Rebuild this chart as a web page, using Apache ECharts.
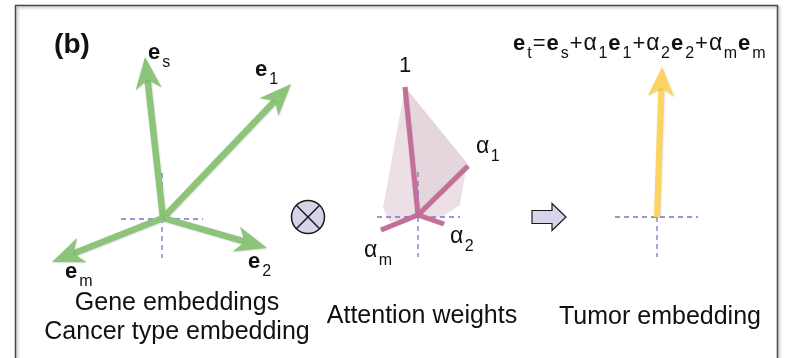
<!DOCTYPE html>
<html><head><meta charset="utf-8">
<script src="https://cdn.jsdelivr.net/npm/echarts@6/dist/echarts.min.js"></script>
<style>html,body{margin:0;padding:0;background:#fff}#c{width:786px;height:358px}</style>
</head><body><div id="c"></div><script>
const FONT = '"Liberation Sans", Arial, Helvetica, sans-serif';

// ---- diagram data (diagram units: x to the right, y downward) ----
const panelTag = '(b)';
const panelTagAt = [72, 45];

const geneOrigin = [163, 218];
const geneTips = [[145, 57], [291, 84], [267, 248], [52, 262]];
const geneSubs = ['s', '1', '2', 'm'];
const geneLabelAt = [[148, 53], [255, 70], [248, 262], [65, 272]];

const attnOrigin = [418, 215];
const attnEnds = [[405, 87], [468, 166], [444, 224], [381, 230]];
const attnMain = ['1', 'α', 'α', 'α'];
const attnSubs = ['', '1', '2', 'm'];
const attnLabelAt = [[399, 66], [476, 147], [450, 237], [364, 251]];
const attnShadeDark = [[[405, 87], [467, 163], [418, 215]]];
const attnShadeLight = [
  [[405, 87], [383, 208], [390, 222], [418, 215]],
  [[467, 163], [460, 205], [440, 218], [418, 215]]
];

const tumorOrigin = [657, 217];
const tumorTip = [662, 67];

const crossCenters = [[162, 219], [418, 217], [657, 217]];
const crossExtents = [[41, 41, 46, 39], [41, 42, 45, 40], [42, 41, 0, 40]]; // left, right, up, down

const otimesAt = [308, 217];
const thenArrowAt = [549, 217];

const formulaAt = [513, 44];
const formulaTokens = [
  ['e', 'b'], ['t', 's'], ['=', 'r'], ['e', 'b'], ['s', 's'], ['+', 'r'],
  ['α', 'a'], ['1', 's'], ['e', 'b'], ['1', 's'], ['+', 'r'],
  ['α', 'a'], ['2', 's'], ['e', 'b'], ['2', 's'], ['+', 'r'],
  ['α', 'a'], ['m', 's'], ['e', 'b'], ['m', 's']
];

const captionTexts = ['Gene embeddings', 'Cancer type embedding', 'Attention weights', 'Tumor embedding'];
const captionAt = [[177, 303], [177, 332], [422, 316], [660, 317]];

// ---- styles ----
const GREEN = '#8cc47a', PINK = '#c26f9a', YELLOW = '#fcd462', DASH = '#7c73c6', INK = '#111';
const TXT = {
  b: { s: 22, w: 'bold', gap: 2 },
  r: { s: 22, w: 'normal', gap: 1 },
  a: { s: 23, w: 'normal', gap: 1.5 },
  s: { s: 16, w: 'normal', gap: 1, dy: 10 }
};
const meas = document.createElement('canvas').getContext('2d');
function tw(t, st) { meas.font = st.w + ' ' + st.s + 'px ' + FONT; return meas.measureText(t).width; }
function textRun(x, y, tokens) {
  const out = []; let cx = x;
  tokens.forEach(function (tk) {
    if (!tk[0]) return;
    const st = TXT[tk[1]];
    out.push({ type: 'text', x: cx, y: y + (st.dy || 0), style: {
      text: tk[0], fill: INK, fontSize: st.s, fontFamily: FONT, fontWeight: st.w,
      align: 'left', verticalAlign: 'middle' } });
    cx += tw(tk[0], st) + st.gap;
  });
  return out;
}

function arrowRender(origin, color, width, headLen, headW, notch) {
  return function (params, api) {
    const o = api.coord(origin);
    const t = api.coord([api.value(0), api.value(1)]);
    const dx = t[0] - o[0], dy = t[1] - o[1];
    const L = Math.hypot(dx, dy), ux = dx / L, uy = dy / L, px = -uy, py = ux;
    const bx = t[0] - ux * headLen, by = t[1] - uy * headLen;
    const nx = t[0] - ux * (headLen - notch), ny = t[1] - uy * (headLen - notch);
    const sh = { shadowBlur: 2, shadowColor: 'rgba(0,0,0,0.18)', shadowOffsetX: 0.5, shadowOffsetY: 0.5 };
    return { type: 'group', children: [
      { type: 'line', shape: { x1: o[0], y1: o[1], x2: nx + ux * 2, y2: ny + uy * 2 },
        style: Object.assign({ stroke: color, lineWidth: width, lineCap: 'butt' }, sh) },
      { type: 'polygon', shape: { points: [[t[0], t[1]], [bx + px * headW / 2, by + py * headW / 2], [nx, ny], [bx - px * headW / 2, by - py * headW / 2]] },
        style: Object.assign({ fill: color }, sh) }
    ] };
  };
}

const chart = echarts.init(document.getElementById('c'), null, { renderer: 'canvas' });
const option = {
  animation: false,
  backgroundColor: '#fff',
  grid: { left: 0, right: 0, top: 0, bottom: 0 },
  xAxis: { type: 'value', min: 0, max: 786, show: false },
  yAxis: { type: 'value', min: 0, max: 358, inverse: true, show: false },
  graphic: [{
    type: 'rect', shape: { x: 15.5, y: 5.5, width: 762, height: 380 },
    style: { fill: 'none', stroke: '#4a4a4a', lineWidth: 1.5, shadowBlur: 3, shadowColor: 'rgba(0,0,0,0.35)', shadowOffsetX: 1.5, shadowOffsetY: 1.5 }
  }],
  series: [
    { // shading of the attention weights
      type: 'custom', clip: false, silent: true,
      data: attnShadeLight.map(function (p, i) { return [i, 0]; }).concat(attnShadeDark.map(function (p, i) { return [i, 1]; })),
      renderItem: function (params, api) {
        const dark = api.value(1) === 1;
        const poly = dark ? attnShadeDark[api.value(0)] : attnShadeLight[api.value(0)];
        return { type: 'polygon', shape: { points: poly.map(function (p) { return api.coord(p); }) },
          style: { fill: dark ? 'rgba(175,125,150,0.32)' : 'rgba(185,145,165,0.28)' } };
      }
    },
    { // dashed axes crosses
      type: 'custom', clip: false, silent: true,
      data: crossCenters,
      renderItem: function (params, api) {
        const c = api.coord([api.value(0), api.value(1)]);
        const e = crossExtents[params.dataIndex];
        const st = { stroke: DASH, lineWidth: 1.3, lineDash: [5, 4] };
        const ch = [{ type: 'line', shape: { x1: c[0] - e[0], y1: c[1], x2: c[0] + e[1], y2: c[1] }, style: st }];
        ch.push({ type: 'line', shape: { x1: c[0], y1: c[1] - e[2], x2: c[0], y2: c[1] + e[3] }, style: st });
        return { type: 'group', children: ch };
      }
    },
    { // gene / cancer type embedding vectors
      type: 'custom', clip: false, silent: true, data: geneTips,
      renderItem: arrowRender(geneOrigin, GREEN, 6.5, 32, 26, 9)
    },
    { // attention weight bars
      type: 'custom', clip: false, silent: true, data: attnEnds,
      renderItem: function (params, api) {
        const o = api.coord(attnOrigin), t = api.coord([api.value(0), api.value(1)]);
        return { type: 'line', shape: { x1: o[0], y1: o[1], x2: t[0], y2: t[1] },
          style: { stroke: PINK, lineWidth: 5, lineCap: 'butt', shadowBlur: 1.5, shadowColor: 'rgba(0,0,0,0.15)' } };
      }
    },
    { // tumor embedding vector
      type: 'custom', clip: false, silent: true, data: [tumorTip],
      renderItem: arrowRender(tumorOrigin, YELLOW, 6, 29, 26, 8)
    },
    { // operators
      type: 'custom', clip: false, silent: true, data: [otimesAt, thenArrowAt],
      renderItem: function (params, api) {
        const c = api.coord([api.value(0), api.value(1)]);
        if (params.dataIndex === 0) {
          const r = 16.5, d = r * Math.SQRT1_2;
          return { type: 'group', children: [
            { type: 'circle', shape: { cx: c[0], cy: c[1], r: r }, style: { fill: '#d9d3ea', stroke: '#1a1a1a', lineWidth: 1.5 } },
            { type: 'line', shape: { x1: c[0] - d, y1: c[1] - d, x2: c[0] + d, y2: c[1] + d }, style: { stroke: '#1a1a1a', lineWidth: 1.5 } },
            { type: 'line', shape: { x1: c[0] - d, y1: c[1] + d, x2: c[0] + d, y2: c[1] - d }, style: { stroke: '#1a1a1a', lineWidth: 1.5 } }
          ] };
        }
        const pts = [[-17, -6.5], [3, -6.5], [3, -13.5], [17, 0], [3, 13.5], [3, 6.5], [-17, 6.5]]
          .map(function (p) { return [c[0] + p[0], c[1] + p[1]]; });
        return { type: 'polygon', shape: { points: pts }, style: { fill: '#d9d3ea', stroke: '#1a1a1a', lineWidth: 1.2 } };
      }
    },
    { // vector labels
      type: 'custom', clip: false, silent: true, data: geneLabelAt,
      renderItem: function (params, api) {
        const c = api.coord([api.value(0), api.value(1)]);
        return { type: 'group', children: textRun(c[0], c[1], [['e', 'b'], [geneSubs[params.dataIndex], 's']]) };
      }
    },
    { // attention labels
      type: 'custom', clip: false, silent: true, data: attnLabelAt,
      renderItem: function (params, api) {
        const c = api.coord([api.value(0), api.value(1)]);
        const i = params.dataIndex;
        return { type: 'group', children: textRun(c[0], c[1], [[attnMain[i], i === 0 ? 'r' : 'a'], [attnSubs[i], 's']]) };
      }
    },
    { // formula
      type: 'custom', clip: false, silent: true, data: [formulaAt],
      renderItem: function (params, api) {
        const c = api.coord([api.value(0), api.value(1)]);
        return { type: 'group', children: textRun(c[0], c[1], formulaTokens) };
      }
    },
    { // captions and panel tag
      type: 'custom', clip: false, silent: true, data: captionAt.concat([panelTagAt]),
      renderItem: function (params, api) {
        const c = api.coord([api.value(0), api.value(1)]);
        const i = params.dataIndex;
        const isTag = i === captionTexts.length;
        return { type: 'text', x: c[0], y: c[1], style: {
          text: isTag ? panelTag : captionTexts[i], fill: INK,
          fontSize: isTag ? 28 : 25, fontWeight: isTag ? 'bold' : 'normal', fontFamily: FONT,
          align: 'center', verticalAlign: 'middle' } };
      }
    }
  ]
};
chart.setOption(option);
</script></body></html>
